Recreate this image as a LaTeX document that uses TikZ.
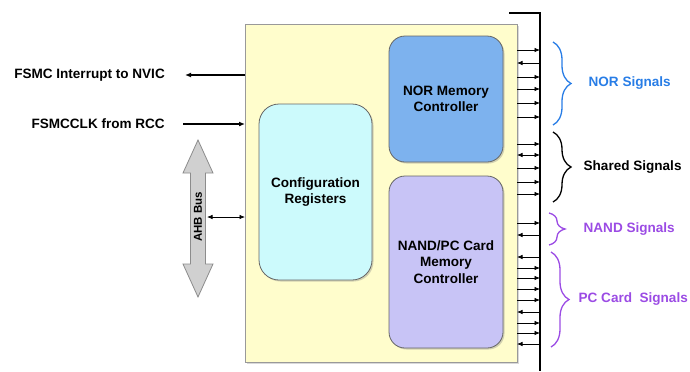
\documentclass[tikz,border=0pt]{standalone}
\usepackage{fontspec}
\setmainfont{Liberation Sans}
\usetikzlibrary{arrows.meta,decorations.pathreplacing,shadows}

\definecolor{boxyellow}{RGB}{255,253,204}
\definecolor{norblue}{RGB}{125,178,238}
\definecolor{cfgcyan}{RGB}{204,250,252}
\definecolor{nandlav}{RGB}{200,196,246}
\definecolor{sigblue}{RGB}{40,125,230}
\definecolor{sigpurple}{RGB}{155,75,228}
\definecolor{busgray}{RGB}{208,208,208}

\tikzset{
  txt/.style={font=\fontsize{13.6}{16.5}\selectfont\bfseries},
  block/.style={draw=black!60, line width=0.8bp, rounded corners=16bp, align=center,
    inner sep=0pt, outer sep=0pt, txt,
    drop shadow={shadow xshift=1.5bp, shadow yshift=-1.5bp, opacity=0.35}},
  tapout/.style={line width=0.7bp, -{Latex[length=5.5bp,width=4.5bp]}},
  tapin/.style={line width=0.7bp, {Latex[length=5.5bp,width=4.5bp]}-},
  tapboth/.style={line width=0.7bp, {Latex[length=5.5bp,width=4.5bp]}-{Latex[length=5.5bp,width=4.5bp]}},
  ext/.style={line width=1.5bp, -{Latex[length=6bp,width=5bp]}},
  brc/.style={decorate, line width=1.3bp},
  lbl/.style={txt, inner sep=0pt, anchor=west}
}

\begin{document}
\begin{tikzpicture}[x=1bp,y=-1bp]
\useasboundingbox (0,0) rectangle (690,371);

\node[draw=black!40, fill=boxyellow, minimum width=272bp, minimum height=338bp,
  inner sep=0pt, outer sep=0pt,
  drop shadow={shadow xshift=2bp, shadow yshift=-2bp, opacity=0.3}] (fsmc) at (381,193) {};
\node[block, fill=norblue, minimum width=114bp, minimum height=126bp] (nor) at (446,99) {NOR Memory\\Controller};
\node[block, fill=nandlav, minimum width=114bp, minimum height=172bp] (nand) at (446,262) {NAND/PC Card\\Memory\\Controller};
\node[block, fill=cfgcyan, minimum width=113bp, minimum height=176bp, rounded corners=20bp] (cfg) at (315.5,192) {Configuration\\Registers};

% external memory bus
\coordinate (bus) at (540,13);
\draw[line width=1.5bp] (509,13) -- (bus) -- (540,371);
\foreach \y/\d in {50/tapout,63/tapin,77/tapout,89/tapout,103/tapout,117/tapout,
    144/tapout,155/tapboth,168/tapout,182/tapout,194/tapout,
    223/tapout,235/tapin,
    257/tapin,268/tapout,278/tapout,289/tapout,300/tapout,312/tapin,323/tapout,333/tapout,344/tapin}
  \draw[\d] (fsmc.east |- 0,\y) -- (bus |- 0,\y);

\draw[brc, sigblue, decoration={brace,amplitude=18bp}] (553,42) -- (553,125)
  node[lbl, text=sigblue, midway, xshift=35bp] (norsig) {NOR Signals};
\draw[brc, black, decoration={brace,amplitude=18bp}] (553,132) -- (553,202)
  node[lbl, midway, xshift=30bp] (shsig) {Shared Signals};
\draw[brc, sigpurple, decoration={brace,amplitude=16bp}] (549,213) -- (549,245)
  node[lbl, text=sigpurple, midway, xshift=34bp] (nandsig) {NAND Signals};
\draw[brc, sigpurple, decoration={brace,amplitude=18bp}] (551,252) -- (551,347)
  node[lbl, text=sigpurple, midway, xshift=27bp] (pcsig) {PC Card~~Signals};

% left side
\node[txt, anchor=east, inner sep=0pt] (irq) at (165,75) {FSMC Interrupt to NVIC};
\draw[ext] (fsmc.west |- irq) -- ([xshift=20bp]irq.east);
\node[txt, anchor=east, inner sep=0pt] (clk) at (165,124) {FSMCCLK from RCC};
\draw[ext] ([xshift=18bp]clk.east) -- (fsmc.west |- clk);

\draw[fill=busgray, draw=black!45, line width=0.8bp]
  (198,140) -- (213,173) -- (205.5,173) -- (205.5,264) -- (213,264) -- (198,297)
  -- (183,264) -- (190.5,264) -- (190.5,173) -- (183,173) -- cycle;
\node[rotate=90, font=\fontsize{11.5}{13}\selectfont\bfseries, inner sep=0pt] (ahb) at (198,217) {AHB Bus};
\draw[tapboth] ([xshift=9bp]ahb.center) -- (fsmc.west |- ahb);
\end{tikzpicture}
\end{document}
